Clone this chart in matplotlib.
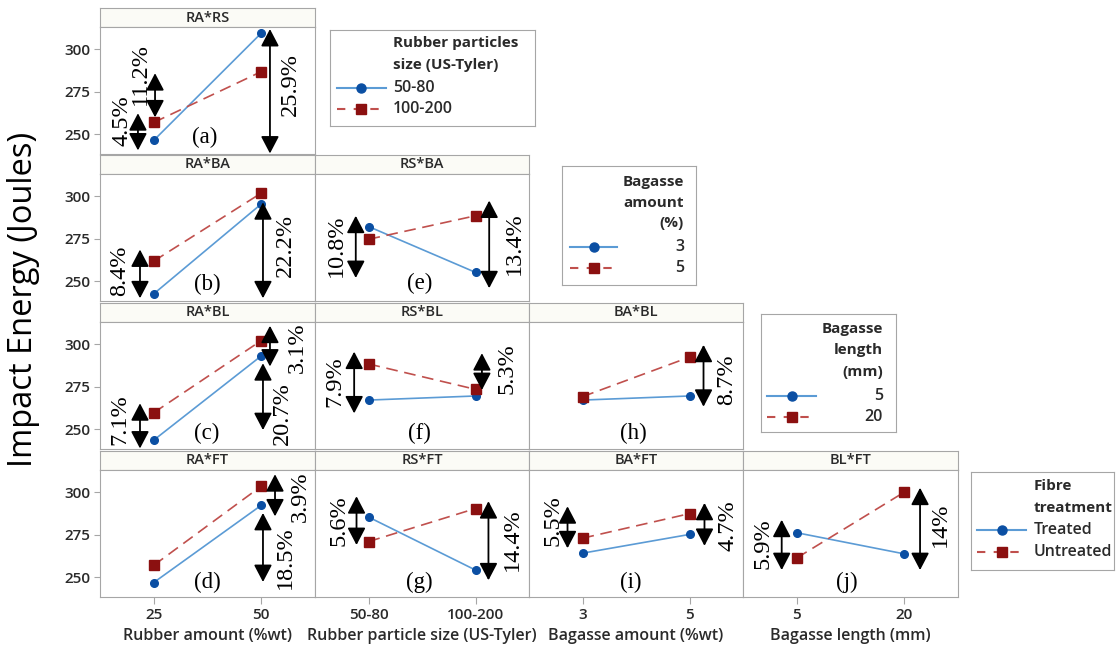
import matplotlib.pyplot as plt

# factor levels (x categories)
ra_levels = ["25", "50"]
rs_levels = ["50-80", "100-200"]
ba_levels = ["3", "5"]
bl_levels = ["5", "20"]

# mean impact energy (J): blue = first level of trace factor, red = second
a_blue = [246.5, 309.4]; a_red = [257.0, 286.8]   # RA*RS
b_blue = [242.7, 295.4]; b_red = [261.9, 301.8]   # RA*BA
c_blue = [243.7, 293.1]; c_red = [259.8, 302.1]   # RA*BL
d_blue = [247.0, 292.3]; d_red = [257.1, 303.5]   # RA*FT
e_blue = [282.2, 255.3]; e_red = [274.7, 288.5]   # RS*BA
f_blue = [267.2, 269.6]; f_red = [288.4, 273.5]   # RS*BL
g_blue = [285.4, 254.3]; g_red = [271.0, 290.4]   # RS*FT
h_blue = [267.2, 269.6]; h_red = [269.2, 292.4]   # BA*BL
i_blue = [264.2, 275.2]; i_red = [273.0, 287.4]   # BA*FT
j_blue = [276.2, 263.8]; j_red = [261.4, 300.0]   # BL*FT

W, H = 1116, 653
SANS = "Open Sans"
SERIF = "Liberation Serif"
BLUE_LINE, BLUE_MK = "#5b9bd5", "#0b4fa3"
RED_LINE, RED_MK = "#c0504d", "#8b1010"
GRID = "#a6a6a6"
TXT = "#2a2a2a"


def fbox(x0, y0, x1, y1):
    return [x0 / W, 1 - y1 / H, (x1 - x0) / W, (y1 - y0) / H]


col_x = [100, 315, 529, 743, 958]
row_y = [8, 155, 303, 451]
strip_h, plot_h = 19, 127

# (row, col, title, letter, levels, blue, red, letter pos, arrows)
# arrow = (x, y_low, y_high, text_x, text_y, label)
panels = [
    (0, 0, "RA*RS", "(a)", ra_levels, a_blue, a_red, (0.477, 248.2),
     [(-0.147, 240.6, 262.4, -0.295, 258.2, "4.5%"),
      (0.012, 260.0, 285.9, -0.128, 285.6, "11.2%"),
      (1.081, 238.8, 311.8, 1.267, 279.4, "25.9%")]),
    (1, 0, "RA*BA", "(b)", ra_levels, b_blue, b_red, (0.495, 248.0),
     [(-0.128, 240.1, 268.7, -0.314, 256.3, "8.4%"),
      (1.016, 240.1, 296.4, 1.221, 271.2, "22.2%")]),
    (2, 0, "RA*BL", "(c)", ra_levels, c_blue, c_red, (0.495, 247.6),
     [(-0.128, 238.8, 265.3, -0.314, 255.5, "7.1%"),
      (1.081, 286.9, 310.8, 1.333, 298.1, "3.1%"),
      (1.016, 249.6, 288.8, 1.193, 259.0, "20.7%")]),
    (3, 0, "RA*FT", "(d)", ra_levels, d_blue, d_red, (0.495, 247.3),
     [(1.128, 285.8, 310.5, 1.36, 297.6, "3.9%"),
      (1.016, 247.3, 287.8, 1.221, 261.7, "18.5%")]),
    (1, 1, "RS*BA", "(e)", rs_levels, e_blue, e_red, (0.477, 249.0),
     [(-0.119, 252.0, 288.5, -0.298, 271.2, "10.8%"),
      (1.128, 246.0, 297.4, 1.36, 272.3, "13.4%")]),
    (2, 1, "RS*BL", "(f)", rs_levels, f_blue, f_red, (0.477, 247.6),
     [(-0.134, 259.4, 295.6, -0.314, 278.0, "7.9%"),
      (1.06, 273.1, 294.7, 1.298, 285.4, "5.3%")]),
    (3, 1, "RS*FT", "(g)", rs_levels, g_blue, g_red, (0.477, 247.3),
     [(-0.112, 269.0, 297.6, -0.274, 283.4, "5.6%"),
      (1.121, 248.3, 294.7, 1.345, 272.0, "14.4%")]),
    (2, 2, "BA*BL", "(h)", ba_levels, h_blue, h_red, (0.48, 247.6),
     [(1.131, 263.3, 299.6, 1.348, 279.0, "8.7%")]),
    (3, 2, "BA*FT", "(i)", ba_levels, i_blue, i_red, (0.449, 247.3),
     [(-0.14, 267.1, 291.7, -0.28, 283.4, "5.5%"),
      (1.14, 268.5, 293.7, 1.363, 280.4, "4.7%")]),
    (3, 3, "BL*FT", "(j)", bl_levels, j_blue, j_red, (0.465, 247.3),
     [(-0.14, 254.3, 283.8, -0.311, 270.1, "5.9%"),
      (1.147, 254.3, 302.6, 1.333, 280.9, "14%")]),
]

x_titles = ["Rubber amount (%wt)", "Rubber particle size (US-Tyler)",
            "Bagasse amount (%wt)", "Bagasse length (mm)"]

fig = plt.figure(figsize=(W / 100, H / 100), dpi=100)

for row, col, title, letter, levels, blue, red, lpos, arrows in panels:
    x0, x1 = col_x[col], col_x[col + 1]
    top = row_y[row]
    # title strip
    sax = fig.add_axes(fbox(x0, top, x1, top + strip_h))
    sax.set_facecolor("#fbfbf6")
    sax.set_xticks([]); sax.set_yticks([])
    for s in sax.spines.values():
        s.set_color(GRID)
    sax.text(0.5, 0.5, title, ha="center", va="center", fontsize=10.5,
             family=SANS, fontweight="semibold", color=TXT,
             transform=sax.transAxes)

    ax = fig.add_axes(fbox(x0, top + strip_h, x1, top + strip_h + plot_h))
    xs = range(len(levels))
    ax.plot(xs, blue, color=BLUE_LINE, lw=1.2, marker="o", ms=5.5,
            mfc=BLUE_MK, mec=BLUE_MK, zorder=3)
    ax.plot(xs, red, color=RED_LINE, lw=1.2, ls=(0, (7, 4)), marker="s",
            ms=7, mfc=RED_MK, mec=RED_MK, zorder=3)
    ax.set_xlim(-0.5, 1.5)
    ax.set_ylim(238.5, 313.0)
    for s in ax.spines.values():
        s.set_color(GRID)

    if col == 0:
        ax.set_yticks([250, 275, 300])
        ax.tick_params(axis="y", length=4, color=GRID, labelsize=11,
                       labelcolor=TXT, pad=3)
        for t in ax.get_yticklabels():
            t.set_family(SANS)
            t.set_fontweight("semibold")
    else:
        ax.set_yticks([])
    if row == 3:
        ax.set_xticks(list(xs))
        ax.set_xticklabels(levels, family=SANS, fontsize=11, color=TXT,
                           fontweight="semibold")
        ax.tick_params(axis="x", length=5, color=GRID, pad=3)
        ax.set_xlabel(x_titles[col], family=SANS, fontsize=11.5, color=TXT,
                      fontweight="semibold", labelpad=4)
    else:
        ax.set_xticks([])

    for ax_x, y_lo, y_hi, tx, ty, lab in arrows:
        ax.annotate("", xy=(ax_x, y_hi), xytext=(ax_x, y_lo),
                    arrowprops=dict(arrowstyle="<|-|>,head_length=1.05,head_width=0.55",
                                    color="black", lw=1.3,
                                    shrinkA=0, shrinkB=0),
                    annotation_clip=False, zorder=4)
        ax.text(tx, ty, lab, rotation=90, ha="center", va="center",
                fontsize=17.5, family=SERIF, color="black", zorder=5)
    ax.text(lpos[0], lpos[1], letter, ha="center", va="center",
            fontsize=16.5, family=SERIF, color="black")

fig.text(24 / W, 1 - 299 / H, "Impact Energy (Joules)", rotation=90,
         ha="center", va="center", fontsize=23.5, family=SANS, color="black")


def legend_box(x0, y0, x1, y1, title, title_x, title_ys, ha, labels,
               label_x, label_ys, lx0, lx1):
    lax = fig.add_axes(fbox(x0, y0, x1, y1))
    lax.set_xlim(x0, x1)
    lax.set_ylim(y1, y0)
    lax.set_xticks([]); lax.set_yticks([])
    for s in lax.spines.values():
        s.set_color(GRID)
    for t, ty in zip(title, title_ys):
        lax.text(title_x, ty, t, ha=ha, va="center", fontsize=11,
                 fontweight="bold", family=SANS, color=TXT)
    styles = [(BLUE_LINE, "-", "o", BLUE_MK, 6.5), (RED_LINE, (0, (4, 4)), "s", RED_MK, 7)]
    for lab, ly, (lc, ls, mk, mc, ms) in zip(labels, label_ys, styles):
        lax.plot([lx0, lx1], [ly, ly], color=lc, ls=ls, lw=1.5)
        lax.plot([(lx0 + lx1) / 2], [ly], marker=mk, ms=ms, color=mc)
        lax.text(label_x, ly, lab, ha=ha, va="center", fontsize=11.5,
                 family=SANS, fontweight="semibold", color=TXT)


legend_box(330, 30, 535, 126, ["Rubber particles", "size (US-Tyler)"], 393,
           [43, 65], "left", rs_levels, 393, [88, 109], 337, 386)
legend_box(562, 166, 696, 285, ["Bagasse", "amount", "(%)"], 684,
           [181.7, 202.7, 223.3], "right", ba_levels, 684, [246.7, 268.3], 570, 617)
legend_box(761, 314, 896, 432, ["Bagasse", "length", "(mm)"], 883,
           [328.7, 350, 372], "right", bl_levels, 883, [395.7, 417.3], 767, 816)
legend_box(971, 472, 1114, 570, ["Fibre", "treatment"], 1034,
           [486, 508.3], "left", ["Treated", "Untreated"], 1034, [530, 551.7], 977, 1026)

fig.savefig("out.png", dpi=100, facecolor="white")
